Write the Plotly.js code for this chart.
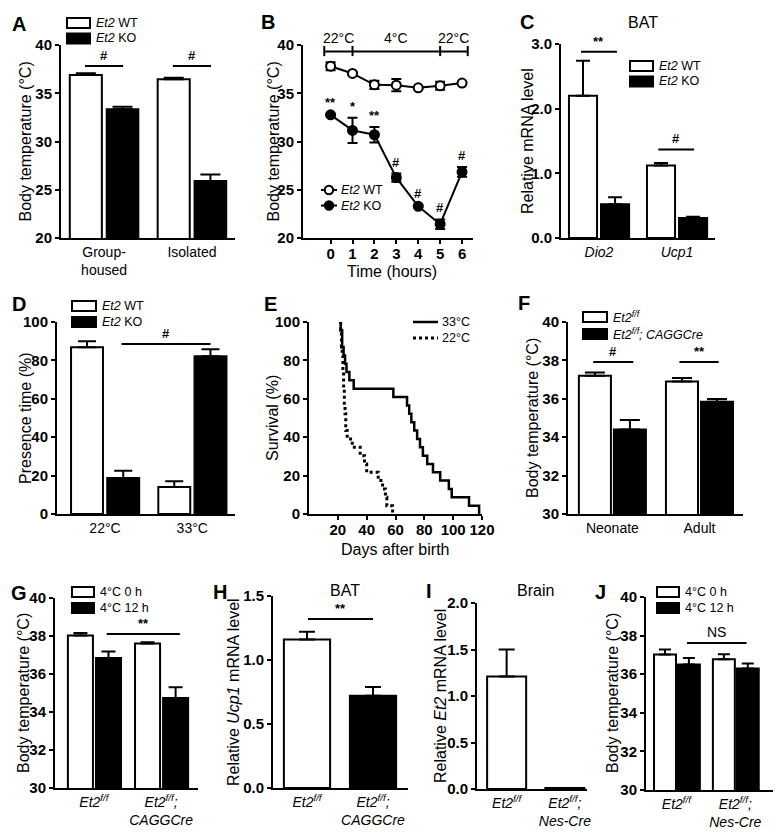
<!DOCTYPE html>
<html><head><meta charset="utf-8">
<script src="https://cdn.plot.ly/plotly-3.0.1.min.js"></script>
<style>html,body{margin:0;padding:0;background:#fff}#chart{width:778px;height:832px}</style>
</head><body><div id="chart"></div>
<script>
// ---------- Panel A ----------
const aCategories = ['Group-<br>housed', 'Isolated'];
const aWT = [36.89, 36.44];
const aWTerr = [0.17, 0.17];
const aKO = [33.33, 25.9];
const aKOerr = [0.28, 0.69];

// ---------- Panel B ----------
const bHours = [0, 1, 2, 3, 4, 5, 6];
const bWT = [37.8, 37.05, 35.87, 35.84, 35.56, 35.77, 36.06];
const bWTerr = [0.42, 0.1, 0.42, 0.63, 0.1, 0.42, 0.1];
const bKO = [32.76, 31.15, 30.7, 26.26, 23.29, 21.43, 26.85];
const bKOerr = [0.1, 1.3, 0.8, 0.42, 0.1, 0.5, 0.5];
const bSig = ['**', '*', '**', '#', '#', '#', '#'];
const bPhases = ['22°C', '4°C', '22°C'];
const bPhaseBounds = [-0.29, 1, 5, 6.26];

// ---------- Panel C ----------
const cGenes = ['<i>Dio2</i>', '<i>Ucp1</i>'];
const cWT = [2.2, 1.12];
const cWTerr = [0.54, 0.04];
const cKO = [0.52, 0.31];
const cKOerr = [0.11, 0.02];

// ---------- Panel D ----------
const dTemps = ['22°C', '33°C'];
const dWT = [86.9, 14.0];
const dWTerr = [3.1, 3.1];
const dKO = [18.7, 82.2];
const dKOerr = [3.8, 3.6];

// ---------- Panel E ----------
const e33Days = [21.5, 22, 23, 24, 25, 26, 28, 31, 58.5, 68, 69.5, 71, 73, 75, 77, 79, 82, 86, 91, 97, 99, 111, 118];
const e33Surv = [100, 95.7, 87.0, 82.6, 78.3, 73.9, 69.6, 65.2, 60.9, 56.5, 52.2, 47.8, 43.5, 39.1, 34.8, 30.4, 26.1, 21.7, 17.4, 13.0, 8.7, 4.3, 0];
const e22Days = [21.5, 22, 22.5, 23, 23.5, 24, 24.5, 25, 25.5, 26.5, 30, 35.5, 38.5, 40, 48, 51, 53, 54, 58];
const e22Surv = [100, 95.7, 87.0, 82.6, 73.9, 65.2, 56.5, 52.2, 43.5, 39.1, 34.8, 30.4, 26.1, 21.7, 17.4, 13.0, 8.7, 4.3, 0];

// ---------- Panel F ----------
const fGroups = ['Neonate', 'Adult'];
const fFF = [37.2, 36.9];
const fFFerr = [0.17, 0.18];
const fCre = [34.4, 35.85];
const fCreErr = [0.5, 0.14];

// ---------- Panel G ----------
const gGenotypes = ['<i>Et2<sup>f/f</sup></i>', '<i>Et2<sup>f/f</sup>;</i><br><i>CAGGCre</i>'];
const g0h = [38.02, 37.6];
const g0hErr = [0.14, 0.07];
const g12h = [36.84, 34.74];
const g12hErr = [0.35, 0.56];

// ---------- Panel H ----------
const hGenotypes = ['<i>Et2<sup>f/f</sup></i>', '<i>Et2<sup>f/f</sup>;</i><br><i>CAGGCre</i>'];
const hUcp1 = [1.16, 0.72];
const hUcp1Err = [0.06, 0.07];

// ---------- Panel I ----------
const iGenotypes = ['<i>Et2<sup>f/f</sup></i>', '<i>Et2<sup>f/f</sup>;</i><br><i>Nes-Cre</i>'];
const iEt2 = [1.21, 0.01];
const iEt2Err = [0.29, 0];

// ---------- Panel J ----------
const jGenotypes = ['<i>Et2<sup>f/f</sup></i>', '<i>Et2<sup>f/f</sup>;</i><br><i>Nes-Cre</i>'];
const j0h = [37.02, 36.78];
const j0hErr = [0.26, 0.25];
const j12h = [36.5, 36.29];
const j12hErr = [0.34, 0.26];

// ---------- legend / title labels ----------
const wtKoNames = ['<i>Et2</i> WT', '<i>Et2</i> KO'];
const tempNames = ['33°C', '22°C'];
const creNames = ['<i>Et2<sup>f/f</sup></i>', '<i>Et2<sup>f/f</sup>; CAGGCre</i>'];
const coldNames = ['4°C 0 h', '4°C 12 h'];

// ================= layout helpers =================
const FONT = 'Liberation Sans, Arial, Helvetica, sans-serif';
const W = 778, H = 832;
const xd = (a, b) => [a / W, b / W];
const yd = (top, bottom) => [1 - bottom / H, 1 - top / H];
const PX = v => v / W;
const PY = v => 1 - v / H;

function yAxis(anchor, dom, range, dtick, fmt) {
  return {
    domain: dom, range: range, dtick: dtick, tick0: 0, tickformat: fmt, anchor: anchor,
    showline: true, linewidth: 2, linecolor: '#000', mirror: false,
    ticks: 'outside', ticklen: 4, tickwidth: 2, tickcolor: '#000',
    showgrid: false, zeroline: false, automargin: false, fixedrange: true,
    tickfont: {family: FONT, size: 15, color: '#000', weight: 'bold'}
  };
}
function xCat(anchor, dom, range) {
  return {
    domain: dom, range: range, type: 'category', anchor: anchor,
    showline: true, linewidth: 2, linecolor: '#000', ticks: '',
    showgrid: false, zeroline: false, automargin: false, fixedrange: true,
    tickfont: {family: FONT, size: 14, color: '#000'}
  };
}
function xNum(anchor, dom, range, tickvals) {
  return {
    domain: dom, range: range, anchor: anchor, tickvals: tickvals,
    showline: true, linewidth: 2, linecolor: '#000',
    ticks: 'outside', ticklen: 4, tickwidth: 2, tickcolor: '#000', ticklabelstandoff: -3,
    showgrid: false, zeroline: false, automargin: false, fixedrange: true,
    tickfont: {family: FONT, size: 15, color: '#000', weight: 'bold'}
  };
}
function bar(xa, ya, cats, vals, errs, fill, offset, width, name, capw) {
  return {
    type: 'bar', x: cats, y: vals, xaxis: xa, yaxis: ya, offset: offset, width: width,
    name: name, showlegend: false,
    marker: {color: fill, line: {color: '#000', width: 2}},
    error_y: {type: 'data', array: errs, arrayminus: errs.map(() => 0), symmetric: false,
      color: '#000', thickness: 2, width: capw},
    hoverinfo: 'skip'
  };
}

const traces = [];
// A
traces.push(bar('x', 'y', aCategories, aWT, aWTerr, '#fff', -0.39, 0.365, wtKoNames[0], 10));
traces.push(bar('x', 'y', aCategories, aKO, aKOerr, '#000', 0.03, 0.36, wtKoNames[1], 10));
// B
traces.push({
  type: 'scatter', mode: 'lines+markers', x: bHours, y: bWT, xaxis: 'x2', yaxis: 'y2',
  name: wtKoNames[0], showlegend: false, cliponaxis: false,
  line: {color: '#000', width: 2},
  marker: {symbol: 'circle', size: 9, color: '#fff', line: {color: '#000', width: 2}},
  error_y: {type: 'data', array: bWTerr, color: '#000', thickness: 2, width: 5}
});
traces.push({
  type: 'scatter', mode: 'lines+markers', x: bHours, y: bKO, xaxis: 'x2', yaxis: 'y2',
  name: wtKoNames[1], showlegend: false, cliponaxis: false,
  line: {color: '#000', width: 2},
  marker: {symbol: 'circle', size: 9, color: '#000', line: {color: '#000', width: 2}},
  error_y: {type: 'data', array: bKOerr, color: '#000', thickness: 2, width: 5}
});
// C
traces.push(bar('x3', 'y3', cGenes, cWT, cWTerr, '#fff', -0.385, 0.36, wtKoNames[0], 7));
traces.push(bar('x3', 'y3', cGenes, cKO, cKOerr, '#000', 0.026, 0.36, wtKoNames[1], 7));
// D
traces.push(bar('x4', 'y4', dTemps, dWT, dWTerr, '#fff', -0.389, 0.366, wtKoNames[0], 9));
traces.push(bar('x4', 'y4', dTemps, dKO, dKOerr, '#000', 0.026, 0.366, wtKoNames[1], 9));
// E
traces.push({
  type: 'scatter', mode: 'lines', x: e33Days, y: e33Surv, xaxis: 'x5', yaxis: 'y5',
  name: tempNames[0], showlegend: false, line: {color: '#000', width: 2.5, shape: 'hv'}, cliponaxis: false
});
traces.push({
  type: 'scatter', mode: 'lines', x: e22Days, y: e22Surv, xaxis: 'x5', yaxis: 'y5',
  name: tempNames[1], showlegend: false, line: {color: '#000', width: 3, shape: 'hv', dash: 'dot'}, cliponaxis: false
});
// F
traces.push(bar('x6', 'y6', fGroups, fFF, fFFerr, '#fff', -0.385, 0.368, creNames[0], 10));
traces.push(bar('x6', 'y6', fGroups, fCre, fCreErr, '#000', 0.017, 0.368, creNames[1], 10));
// G
traces.push(bar('x7', 'y7', gGenotypes, g0h, g0hErr, '#fff', -0.388, 0.373, coldNames[0], 7));
traces.push(bar('x7', 'y7', gGenotypes, g12h, g12hErr, '#000', 0.03, 0.373, coldNames[1], 7));
// H
traces.push(bar('x8', 'y8', hGenotypes, hUcp1, hUcp1Err, ['#fff', '#000'], -0.35, 0.70, 'Ucp1', 8));
// I
traces.push(bar('x9', 'y9', iGenotypes, iEt2, iEt2Err, ['#fff', '#000'], -0.335, 0.67, 'Et2', 8));
// J
traces.push(bar('x10', 'y10', jGenotypes, j0h, j0hErr, '#fff', -0.381, 0.373, coldNames[0], 6));
traces.push(bar('x10', 'y10', jGenotypes, j12h, j12hErr, '#000', 0.025, 0.373, coldNames[1], 6));

const shapes = [];
const annotations = [];
const txt = (size, weight) => ({family: FONT, size: size, color: '#000', weight: weight || 'normal'});

// significance bars (axis, x0, x1, y, label, bold)
const sigBars = [
  ['', -0.217, 0.217, 37.82, '#', true],
  ['', 0.783, 1.217, 37.82, '#', true],
  ['3', -0.23, 0.23, 2.88, '**', true],
  ['3', 0.76, 1.22, 1.37, '#', true],
  ['4', 0.19, 1.21, 88.6, '#', true],
  ['6', -0.22, 0.24, 37.92, '#', true],
  ['6', 0.77, 1.22, 37.92, '**', true],
  ['7', 0.19, 1.28, 38.1, '**', true],
  ['8', 0.015, 1.0, 1.32, '**', true],
  ['10', 0.18, 1.19, 37.62, 'NS', false]
];
sigBars.forEach(s => {
  shapes.push({type: 'line', xref: 'x' + s[0], yref: 'y' + s[0], x0: s[1], x1: s[2], y0: s[3], y1: s[3],
    line: {color: '#000', width: 2}});
  annotations.push({xref: 'x' + s[0], yref: 'y' + s[0], x: (s[1] + s[2]) / 2, y: s[3], yanchor: 'bottom',
    yshift: 1, text: s[4], showarrow: false, font: s[5] ? txt(13, 'bold') : txt(14)});
});

// Panel B: stats over KO points
bHours.forEach((h, i) => {
  annotations.push({xref: 'x2', yref: 'y2', x: h, y: bKO[i] + bKOerr[i], yanchor: 'bottom', yshift: 2,
    text: bSig[i], showarrow: false, font: txt(13, 'bold')});
});
// Panel B: temperature phase bracket
const bBracketY = 39.33;
shapes.push({type: 'line', xref: 'x2', yref: 'y2', x0: bPhaseBounds[0], x1: bPhaseBounds[3],
  y0: bBracketY, y1: bBracketY, line: {color: '#000', width: 2}});
bPhaseBounds.forEach(b => {
  shapes.push({type: 'line', xref: 'x2', yref: 'y2', x0: b, x1: b, y0: 38.85, y1: 39.9,
    line: {color: '#000', width: 2}});
});
bPhases.forEach((p, i) => {
  annotations.push({xref: 'x2', yref: 'paper', x: (bPhaseBounds[i] + bPhaseBounds[i + 1]) / 2, y: PY(38),
    yanchor: 'middle', text: p, showarrow: false, font: txt(14)});
});

// panel letters, titles, axis titles
const letters = [['A', 19, 24], ['B', 268, 22], ['C', 527, 22], ['D', 19, 304], ['E', 270, 304],
  ['F', 524, 303], ['G', 19, 593], ['H', 220, 592], ['I', 429, 591], ['J', 600, 592]];
letters.forEach(l => annotations.push({xref: 'paper', yref: 'paper', x: PX(l[1]), y: PY(l[2]),
  xanchor: 'center', yanchor: 'middle', text: l[0], showarrow: false, font: txt(20, 'bold')}));
const panelTitles = [['BAT', 643, 23], ['BAT', 345, 590], ['Brain', 535, 590]];
panelTitles.forEach(t => annotations.push({xref: 'paper', yref: 'paper', x: PX(t[1]), y: PY(t[2]),
  xanchor: 'center', yanchor: 'middle', text: t[0], showarrow: false, font: txt(16)}));
const bt = 'Body temperature (°C)';
const yTitles = [[bt, 25, 141.5], [bt, 273, 141.5], ['Relative mRNA level', 527, 141],
  ['Presence time (%)', 25, 418], ['Survival (%)', 272, 418], [bt, 532, 418],
  [bt, 23, 693], ['Relative <i>Ucp1</i> mRNA level', 233, 692], ['Relative <i>Et2</i> mRNA level', 440, 696],
  [bt, 612, 693]];
yTitles.forEach(t => annotations.push({xref: 'paper', yref: 'paper', x: PX(t[1]), y: PY(t[2]),
  xanchor: 'center', yanchor: 'middle', textangle: -90, text: t[0], showarrow: false, font: txt(16)}));
const xTitles = [['Time (hours)', 392, 271], ['Days after birth', 395, 549]];
xTitles.forEach(t => annotations.push({xref: 'paper', yref: 'paper', x: PX(t[1]), y: PY(t[2]),
  xanchor: 'center', yanchor: 'middle', text: t[0], showarrow: false, font: txt(16)}));

// legends drawn as keys
function boxLegend(x, y0, step, w, h, names) {
  const fills = ['#fff', '#000'];
  names.forEach((n, i) => {
    const cy = y0 + i * step;
    shapes.push({type: 'rect', xref: 'paper', yref: 'paper', x0: PX(x), x1: PX(x + w),
      y0: PY(cy + h / 2), y1: PY(cy - h / 2), fillcolor: fills[i], line: {color: '#000', width: 2}});
    annotations.push({xref: 'paper', yref: 'paper', x: PX(x + w + 4), y: PY(cy), xanchor: 'left',
      yanchor: 'middle', text: n, showarrow: false, font: txt(12.5)});
  });
}
function lineLegend(x, y0, step, w, names, dashes, widths, markers) {
  names.forEach((n, i) => {
    const cy = y0 + i * step;
    shapes.push({type: 'line', xref: 'paper', yref: 'paper', x0: PX(x), x1: PX(x + w), y0: PY(cy), y1: PY(cy),
      line: {color: '#000', width: widths[i], dash: dashes[i]}});
    if (markers) {
      const cx = x + w / 2, r = 4.2;
      shapes.push({type: 'circle', xref: 'paper', yref: 'paper', x0: PX(cx - r), x1: PX(cx + r),
        y0: PY(cy + r), y1: PY(cy - r), fillcolor: markers[i], line: {color: '#000', width: 2}});
    }
    annotations.push({xref: 'paper', yref: 'paper', x: PX(x + w + 2), y: PY(cy), xanchor: 'left',
      yanchor: 'middle', text: n, showarrow: false, font: txt(12.5)});
  });
}
boxLegend(67, 23, 15.5, 23, 10, wtKoNames);           // A
lineLegend(321, 190, 15.5, 16, wtKoNames, ['solid', 'solid'], [2, 2], ['#fff', '#000']); // B
boxLegend(630, 66, 15.5, 23, 10, wtKoNames);          // C
boxLegend(72, 306, 16, 24, 10, wtKoNames);            // D
lineLegend(413, 322, 16, 25, tempNames, ['solid', 'dot'], [2.5, 3], null); // E
boxLegend(583, 317, 17, 24, 10, creNames);            // F
boxLegend(72, 592, 16, 22, 10, coldNames);            // G
boxLegend(657, 592, 16, 22, 10, coldNames);           // J

const layout = {
  width: W, height: H, margin: {l: 0, r: 0, t: 0, b: 0},
  paper_bgcolor: '#fff', plot_bgcolor: 'rgba(0,0,0,0)',
  font: {family: FONT, color: '#000'}, showlegend: false, barmode: 'overlay',
  xaxis: xCat('y', xd(61, 235), [-0.49, 1.49]),
  yaxis: yAxis('x', yd(45, 238), [20, 40], 5, ''),
  xaxis2: xNum('y2', xd(303, 473), [-1.26, 6.5], bHours),
  yaxis2: yAxis('x2', yd(45, 238), [20, 40], 5, ''),
  xaxis3: xCat('y3', xd(561, 715), [-0.487, 1.487]),
  yaxis3: yAxis('x3', yd(44, 238), [0, 3], 1, '.1f'),
  xaxis4: xCat('y4', xd(57, 235), [-0.55, 1.49]),
  yaxis4: yAxis('x4', yd(322, 514), [0, 100], 20, ''),
  xaxis5: xNum('y5', xd(309, 482), [0, 120], [20, 40, 60, 80, 100, 120]),
  yaxis5: yAxis('x5', yd(322, 514), [0, 100], 20, ''),
  xaxis6: xCat('y6', xd(568, 743), [-0.51, 1.5]),
  yaxis6: yAxis('x6', yd(322, 514), [30, 40], 2, ''),
  xaxis7: xCat('y7', xd(55, 198), [-0.58, 1.55]),
  yaxis7: yAxis('x7', yd(598, 788), [30, 40], 2, ''),
  xaxis8: xCat('y8', xd(273, 408), [-0.515, 1.53]),
  yaxis8: yAxis('x8', yd(596, 788), [0, 1.5], 0.5, '.1f'),
  xaxis9: xCat('y9', xd(477, 587), [-0.509, 1.38]),
  yaxis9: yAxis('x9', yd(603, 789), [0, 2], 0.5, '.1f'),
  xaxis10: xCat('y10', xd(646, 773), [-0.517, 1.64]),
  yaxis10: yAxis('x10', yd(597, 790), [30, 40], 2, ''),
  shapes: shapes,
  annotations: annotations
};

Plotly.newPlot('chart', traces, layout, {staticPlot: true, displayModeBar: false});
</script>
</body></html>
